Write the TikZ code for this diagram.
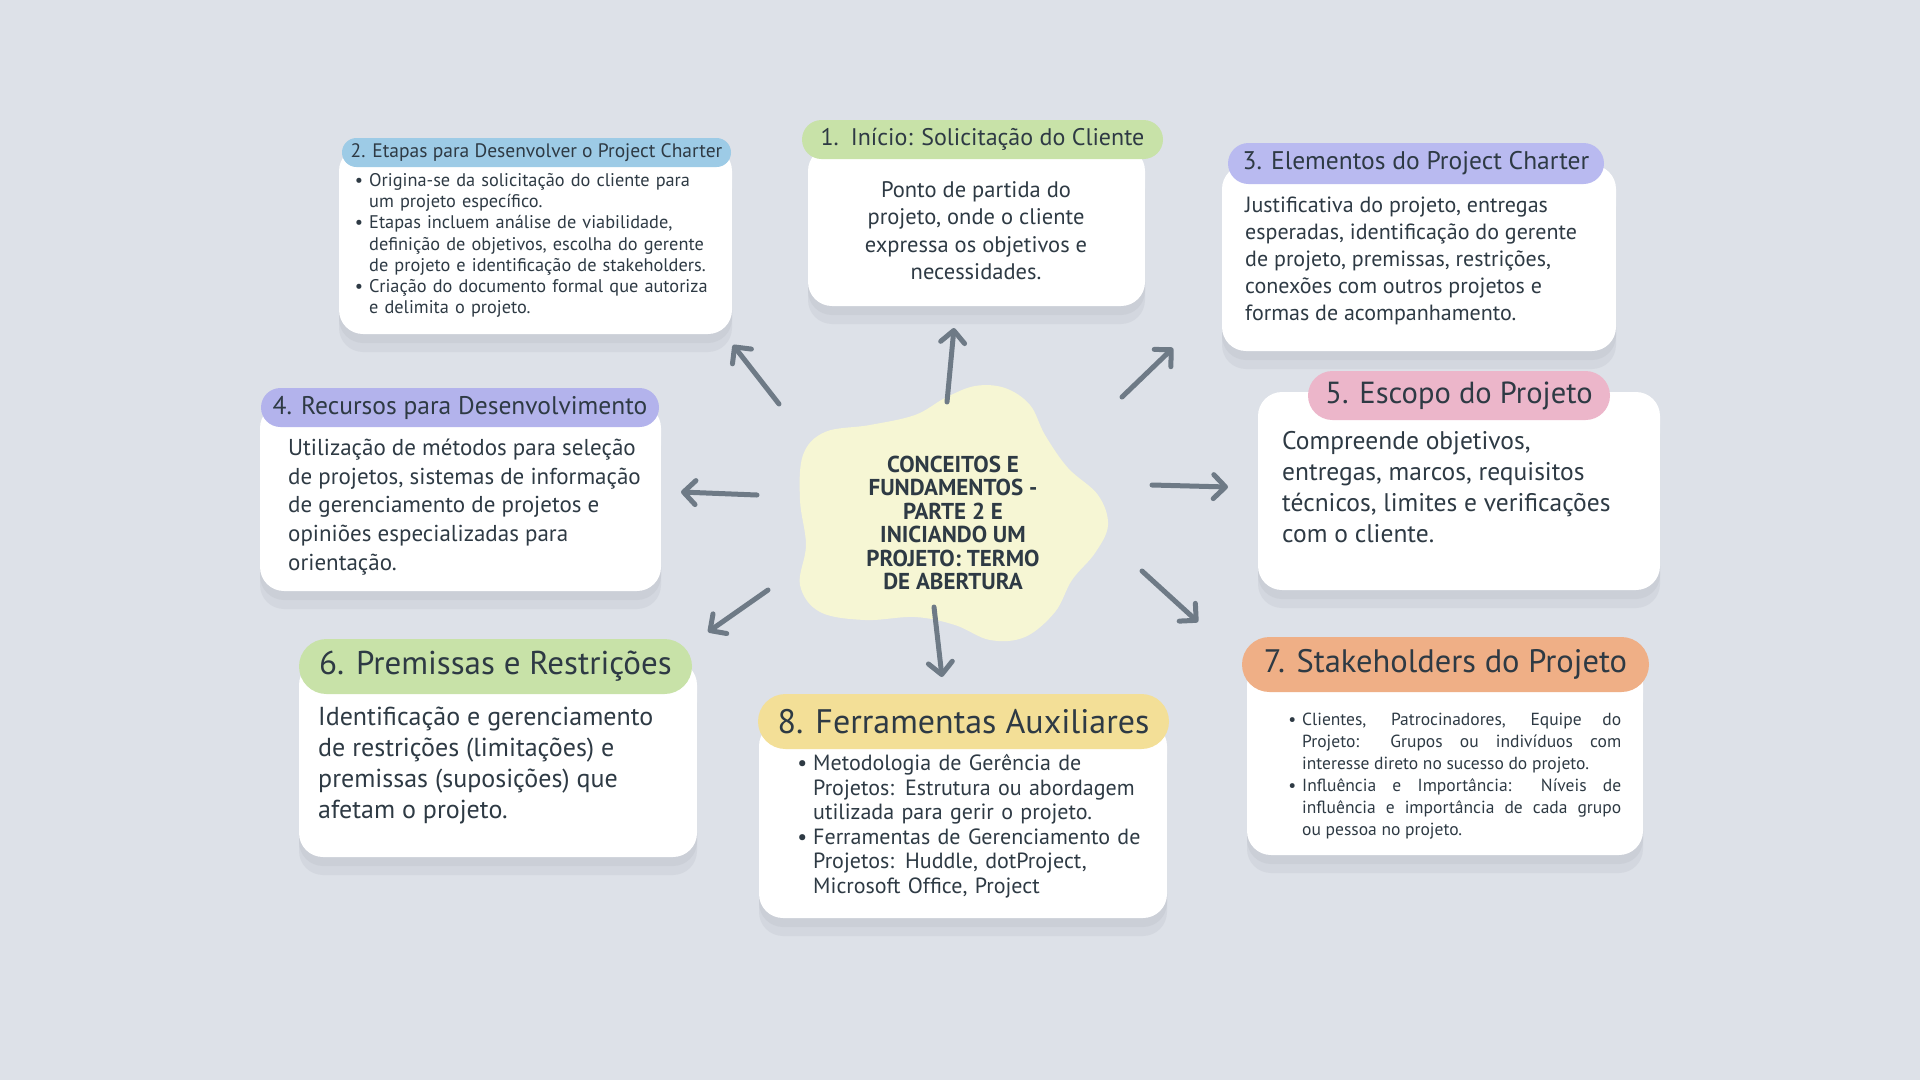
\documentclass[tikz,border=0pt]{standalone}
\usepackage{fontspec}
\setmainfont{PT Sans}
\usetikzlibrary{positioning, arrows.meta, shapes.misc}

\definecolor{bgGrey}{HTML}{DDE1E8}
\definecolor{shadowGrey}{HTML}{C9CDD5}
\definecolor{txtDark}{HTML}{2E3A44}
\definecolor{arrowGrey}{HTML}{6E7A86}
\definecolor{blobYellow}{HTML}{F6F6D4}
\definecolor{hdrGreen}{HTML}{C8E2A8}
\definecolor{hdrBlue}{HTML}{9DCBE6}
\definecolor{hdrLavender}{HTML}{B9BAF0}
\definecolor{hdrPurple}{HTML}{B3B3EC}
\definecolor{hdrPink}{HTML}{ECB6CA}
\definecolor{hdrOrange}{HTML}{EFAF86}
\definecolor{hdrYellow}{HTML}{F3DF97}

\newenvironment{dotList}{\begin{list}{\textbullet}{\setlength{\leftmargin}{16pt}%
\setlength{\labelwidth}{10pt}\setlength{\labelsep}{6pt}\setlength{\itemsep}{0pt}%
\setlength{\parsep}{0pt}\setlength{\topsep}{0pt}\setlength{\partopsep}{0pt}}}{\end{list}}

\tikzset{
	bodyBox/.style={fill=white, rounded corners=24pt, inner sep=0pt,
		preaction={fill=shadowGrey, opacity=0.45, transform canvas={yshift=-18pt}},
		preaction={fill=shadowGrey, opacity=0.7, transform canvas={yshift=-9pt}}},
	headBox/.style={rounded rectangle, inner sep=0pt, text=txtDark},
	bodyText/.style={inner sep=0pt, text=txtDark, anchor=north west, align=left},
	linkArrow/.style={draw=arrowGrey, line width=5pt, line cap=round,
		-{Straight Barb[length=12pt, width=24pt, round]}}
}

\begin{document}
\begin{tikzpicture}[x=1pt, y=-1pt]
	
	%Background
	\fill[bgGrey] (0,0) rectangle (1920,1080);
	\useasboundingbox (0,0) rectangle (1920,1080);
	
	%Central idea
	\fill[blobYellow] plot[smooth cycle, tension=0.6] coordinates {(945,398) (975,386) (1005,388) (1030,405)
		(1045,435) (1068,468) (1098,495) (1108,525) (1095,553) (1072,580) (1055,612) (1025,637)
		(990,640) (955,625) (915,617) (865,620) (820,612) (800,585) (806,545) (800,500) (803,455)
		(825,432) (870,425) (915,415)};
	\node (centerTitle) at (953,523) [inner sep=0pt, text=txtDark, align=center,
	font=\fontsize{23}{23.5}\selectfont\bfseries]
	{CONCEITOS E\\FUNDAMENTOS -\\PARTE 2 E\\INICIANDO UM\\PROJETO: TERMO\\DE ABERTURA};
	
	%1. Inicio
	\node (initBody) at (976.5,226.5) [bodyBox, minimum width=337, minimum height=159]{};
	\node (initHead) at (982.5,139.5) [headBox, fill=hdrGreen, minimum width=361, minimum height=39,
	font=\fontsize{24}{26}\selectfont]{1.\hspace{12pt}Início: Solicitação do Cliente};
	\node (initText) at (976,181) [bodyText, anchor=north, align=center,
	font=\fontsize{22.5}{27.5}\selectfont]
	{Ponto de partida do\\projeto, onde o cliente\\expressa os objetivos e\\necessidades.};
	
	%2. Etapas
	\node (stepsBody) at (535.5,240.5) [bodyBox, minimum width=393, minimum height=187]{};
	\node (stepsHead) at (536.5,152.5) [headBox, fill=hdrBlue, minimum width=389, minimum height=29,
	font=\fontsize{19.5}{22}\selectfont]{2. Etapas para Desenvolver o Project Charter};
	\node (stepsText) at (353,165) [bodyText, text width=380, font=\fontsize{18.3}{21.2}\selectfont]
	{\begin{dotList}
			\item Origina-se da solicitação do cliente para\newline um projeto específico.
			\item Etapas incluem análise de viabilidade,\newline definição de objetivos, escolha do gerente\newline de projeto e identificação de stakeholders.
			\item Criação do documento formal que autoriza\newline e delimita o projeto.
	\end{dotList}};
	
	%3. Elementos
	\node (elemBody) at (1419,258) [bodyBox, minimum width=394, minimum height=186]{};
	\node (elemHead) at (1416,163.5) [headBox, fill=hdrLavender, minimum width=376, minimum height=41,
	font=\fontsize{25.5}{28}\selectfont]{3. Elementos do Project Charter};
	\node (elemText) at (1245,197) [bodyText, font=\fontsize{22}{27}\selectfont]
	{Justificativa do projeto, entregas\\esperadas, identificação do gerente\\de projeto, premissas, restrições,\\conexões com outros projetos e\\formas de acompanhamento.};
	
	%4. Recursos
	\node (resBody) at (460.5,497.5) [bodyBox, minimum width=401, minimum height=187]{};
	\node (resHead) at (460,407.5) [headBox, fill=hdrPurple, minimum width=398, minimum height=39,
	font=\fontsize{25.5}{28}\selectfont]{4. Recursos para Desenvolvimento};
	\node (resText) at (288,439) [bodyText, font=\fontsize{23}{28.6}\selectfont]
	{Utilização de métodos para seleção\\de projetos, sistemas de informação\\de gerenciamento de projetos e\\opiniões especializadas para\\orientação.};
	
	%5. Escopo
	\node (scopeBody) at (1459,491) [bodyBox, minimum width=402, minimum height=198]{};
	\node (scopeHead) at (1459,395.5) [headBox, fill=hdrPink, minimum width=302, minimum height=49,
	font=\fontsize{30.5}{32}\selectfont]{5. Escopo do Projeto};
	\node (scopeText) at (1282,431) [bodyText, font=\fontsize{25.5}{31}\selectfont]
	{Compreende objetivos,\\entregas, marcos, requisitos\\técnicos, limites e verificações\\com o cliente.};
	
	%6. Premissas
	\node (premBody) at (498,759) [bodyBox, minimum width=398, minimum height=196]{};
	\node (premHead) at (495.5,666.5) [headBox, fill=hdrGreen, minimum width=393, minimum height=55,
	font=\fontsize{33}{35}\selectfont]{6. Premissas e Restrições};
	\node (premText) at (318,707) [bodyText, font=\fontsize{26}{31}\selectfont]
	{Identificação e gerenciamento\\de restrições (limitações) e\\premissas (suposições) que\\afetam o projeto.};
	
	%7. Stakeholders
	\node (stakeBody) at (1445,758) [bodyBox, minimum width=396, minimum height=194]{};
	\node (stakeHead) at (1445.5,664.5) [headBox, fill=hdrOrange, minimum width=407, minimum height=55,
	font=\fontsize{32.5}{35}\selectfont]{7. Stakeholders do Projeto};
	\node (stakeText) at (1286,703) [bodyText, text width=335, align=justify,
	font=\fontsize{17.5}{22}\selectfont]
	{\begin{dotList}
			\item Clientes, Patrocinadores, Equipe do\linebreak Projeto: Grupos ou indivíduos com\linebreak interesse direto no sucesso do projeto.
			\item Influência e Importância: Níveis de\linebreak influência e importância de cada grupo\linebreak ou pessoa no projeto.
	\end{dotList}};
	
	%8. Ferramentas
	\node (toolsBody) at (963,820) [bodyBox, minimum width=408, minimum height=196]{};
	\node (toolsHead) at (963.5,721.5) [headBox, fill=hdrYellow, minimum width=411, minimum height=55,
	font=\fontsize{34}{36}\selectfont]{8. Ferramentas Auxiliares};
	\node (toolsText) at (797,746) [bodyText, text width=370, font=\fontsize{22}{24.5}\selectfont]
	{\begin{dotList}
			\item Metodologia de Gerência de\newline Projetos: Estrutura ou abordagem\newline utilizada para gerir o projeto.
			\item Ferramentas de Gerenciamento de\newline Projetos: Huddle, dotProject,\newline Microsoft Office, Project
	\end{dotList}};
	
	%Links
	\coordinate (upStart) at (947,402);
	\coordinate (upEnd) at (954,328);
	\coordinate (upLeftStart) at (779,404);
	\coordinate (upLeftEnd) at (733,345);
	\coordinate (upRightStart) at (1122,397);
	\coordinate (upRightEnd) at (1173,348);
	\coordinate (leftStart) at (757,495);
	\coordinate (leftEnd) at (681,492);
	\coordinate (rightStart) at (1152,485);
	\coordinate (rightEnd) at (1228,487);
	\coordinate (downLeftStart) at (768,590);
	\coordinate (downLeftEnd) at (708,632);
	\coordinate (downStart) at (934,607);
	\coordinate (downEnd) at (942,677);
	\coordinate (downRightStart) at (1142,571);
	\coordinate (downRightEnd) at (1198,622);
	
	\draw[linkArrow] (upStart) -- (upEnd);
	\draw[linkArrow] (upLeftStart) -- (upLeftEnd);
	\draw[linkArrow] (upRightStart) -- (upRightEnd);
	\draw[linkArrow] (leftStart) -- (leftEnd);
	\draw[linkArrow] (rightStart) -- (rightEnd);
	\draw[linkArrow] (downLeftStart) -- (downLeftEnd);
	\draw[linkArrow] (downStart) -- (downEnd);
	\draw[linkArrow] (downRightStart) -- (downRightEnd);
	
\end{tikzpicture}
\end{document}
